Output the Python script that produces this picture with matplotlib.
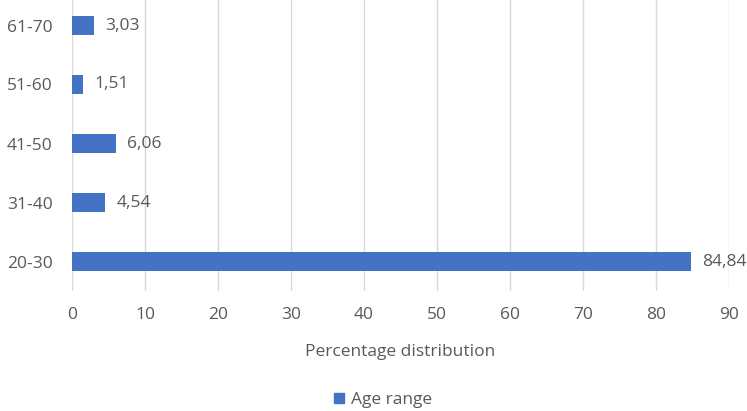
import matplotlib
matplotlib.use("Agg")
import matplotlib.pyplot as plt

categories = ["20-30", "31-40", "41-50", "51-60", "61-70"]
values = [84.84, 4.54, 6.06, 1.51, 3.03]
value_labels = ["84,84", "4,54", "6,06", "1,51", "3,03"]
xticks = [0, 10, 20, 30, 40, 50, 60, 70, 80, 90]

plt.rcParams['font.family'] = ['Open Sans', 'DejaVu Sans']
text_color = "#595959"
bar_color = "#4472C4"
fs = 12.5

fig = plt.figure(figsize=(7.47, 4.11), dpi=100)
ax = fig.add_axes([72/747, 1 - 291/411, 657/747, 295/411])

y = list(range(len(categories)))
ax.barh(y, values, height=0.33, color=bar_color, zorder=3)
for yi, v, lab in zip(y, values, value_labels):
    ax.annotate(lab, (v, yi), xytext=(8, 0), textcoords="offset points",
                va="center", ha="left", fontsize=fs, color=text_color)

ax.set_xlim(0, 90)
ax.set_ylim(-0.5, len(categories) - 0.5)
ax.set_xticks(xticks)
ax.set_xticklabels([str(t) for t in xticks])
ax.set_yticks(y)
ax.set_yticklabels(categories)
ax.tick_params(axis="both", length=0, labelsize=fs, labelcolor=text_color)
ax.tick_params(axis="x", pad=11.5)
ax.tick_params(axis="y", pad=14)
ax.grid(axis="x", color="#D9D9D9", linewidth=1, zorder=0)
for s in ax.spines.values():
    s.set_visible(False)
ax.set_xlabel("Percentage distribution", fontsize=fs, color=text_color, labelpad=15)

fig.legend(handles=[plt.Rectangle((0, 0), 1, 1, color=bar_color)], labels=["Age range"],
           loc="center", bbox_to_anchor=(383/747, 1 - 400/411), frameon=False,
           fontsize=fs, labelcolor=text_color, handlelength=0.55, handleheight=0.55,
           handletextpad=0.4)

fig.savefig("out.png", dpi=100)
